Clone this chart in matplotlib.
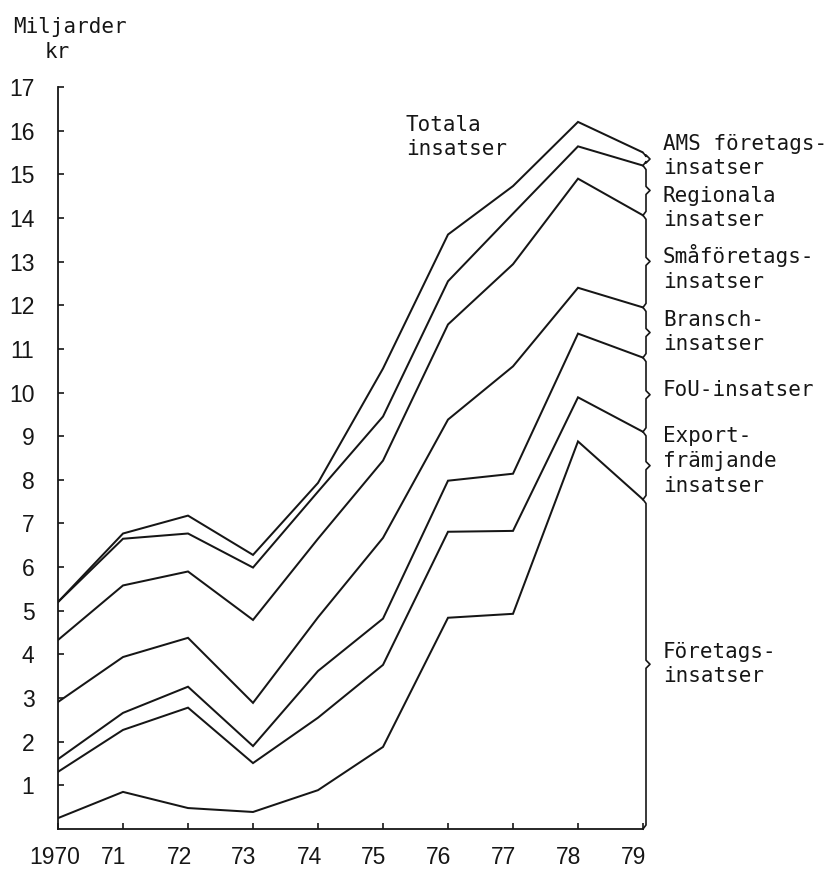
import numpy as np
import matplotlib
matplotlib.use("Agg")
import matplotlib.pyplot as plt
from matplotlib.transforms import ScaledTranslation
from matplotlib import font_manager

# ---- data (cumulative levels, miljarder kr) ----
years = [1970, 1971, 1972, 1973, 1974, 1975, 1976, 1977, 1978, 1979]
year_labels = ["1970", "71", "72", "73", "74", "75", "76", "77", "78", "79"]
foretags = [0.25, 0.85, 0.48, 0.39, 0.89, 1.88, 4.84, 4.93, 8.88, 7.55]
export = [1.31, 2.27, 2.78, 1.51, 2.55, 3.76, 6.81, 6.83, 9.89, 9.10]
fou = [1.60, 2.66, 3.26, 1.90, 3.62, 4.82, 7.98, 8.14, 11.35, 10.80]
bransch = [2.91, 3.94, 4.38, 2.89, 4.85, 6.67, 9.38, 10.60, 12.40, 11.95]
smaforetags = [4.33, 5.58, 5.90, 4.79, 6.65, 8.44, 11.56, 12.94, 14.90, 14.06]
regionala = [5.20, 6.65, 6.77, 5.99, 7.73, 9.45, 12.55, 14.10, 15.64, 15.20]
totala = [5.20, 6.77, 7.18, 6.28, 7.93, 10.55, 13.62, 14.73, 16.20, 15.50]
series = [foretags, export, fou, bransch, smaforetags, regionala, totala]
y_ticks = list(range(1, 18))
segment_labels = ["Företags-\ninsatser", "Export-\nfrämjande\ninsatser", "FoU-insatser",
                  "Bransch-\ninsatser", "Småföretags-\ninsatser", "Regionala\ninsatser",
                  "AMS företags-\ninsatser"]

W, H = 829, 869
fig = plt.figure(figsize=(W / 100, H / 100), dpi=100)
x0px, x1px, y0px, y1px = 58, 643, 829, 87
ax = fig.add_axes([x0px / W, 1 - y0px / H, (x1px - x0px) / W, (y0px - y1px) / H])
ax.set_xlim(years[0], years[-1])
ax.set_ylim(0, 17)

avail = {f.name for f in font_manager.fontManager.ttflist}
tickfont = "Liberation Sans Narrow" if "Liberation Sans Narrow" in avail else "Liberation Sans"
mono = "DejaVu Sans Mono"
ink = "#161616"

for s in series:
    ax.plot(years, s, color=ink, lw=1.45, solid_joinstyle="miter")

for sp in ["top", "right"]:
    ax.spines[sp].set_visible(False)
for sp in ["left", "bottom"]:
    ax.spines[sp].set_linewidth(1.3)
    ax.spines[sp].set_color(ink)

ax.set_yticks(y_ticks)
ax.set_yticklabels([str(v) for v in y_ticks], fontfamily=tickfont, fontsize=16.5, color=ink)
ax.set_xticks(years)
ax.set_xticklabels(year_labels, fontfamily=tickfont, fontsize=16.5, color=ink)
ax.tick_params(axis="y", direction="in", length=4, width=1.2, pad=17, colors=ink)
ax.tick_params(axis="x", direction="in", length=4, width=1.2, pad=12, colors=ink)
for i, lbl in enumerate(ax.get_xticklabels()):
    dx = -3 if i == 0 else -9
    lbl.set_transform(lbl.get_transform() + ScaledTranslation(dx / 100, 0, fig.dpi_scale_trans))

# braces at right end (1979)
px_x = (years[-1] - years[0]) / (x1px - x0px)
px_y = 17 / (y0px - y1px)
ends = [0.0] + [s[-1] for s in series]
for lo, hi in zip(ends[:-1], ends[1:]):
    mid = (lo + hi) / 2
    d = 4 * px_y
    xs = [years[-1], years[-1] + 3 * px_x, years[-1] + 3 * px_x, years[-1] + 7 * px_x,
          years[-1] + 3 * px_x, years[-1] + 3 * px_x, years[-1]]
    ys = [lo, lo + d, mid - d, mid, mid + d, hi - d, hi]
    ax.plot(xs, ys, color=ink, lw=1.2, clip_on=False)

# right-hand labels
label_y = [664, 461, 390, 332, 268, 208, 156]
for txt, yy in zip(segment_labels, label_y):
    fig.text(663 / W, 1 - yy / H, txt, fontfamily=mono, fontsize=15, color=ink,
             ha="left", va="center", linespacing=1.3)

fig.text(406 / W, 1 - 137 / H, "Totala\ninsatser", fontfamily=mono, fontsize=15,
         color=ink, ha="left", va="center", linespacing=1.3)
fig.text(13 / W, 1 - 27 / H, "Miljarder", fontfamily=mono, fontsize=15, color=ink,
         ha="left", va="center")
fig.text(45 / W, 1 - 52 / H, "kr", fontfamily=mono, fontsize=15, color=ink,
         ha="left", va="center")

fig.savefig("out.png", dpi=100, facecolor="white")
